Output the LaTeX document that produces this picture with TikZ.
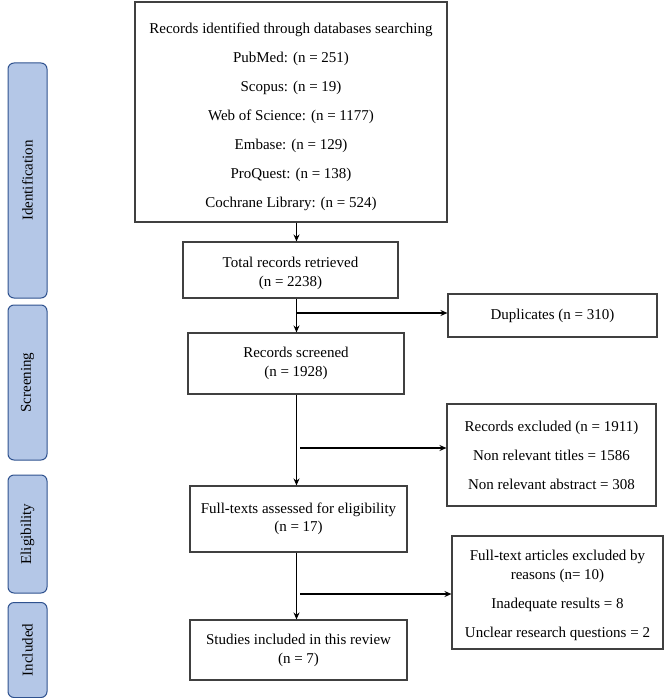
\documentclass[tikz,border=0pt]{standalone}
\usepackage{fontspec}
\setmainfont{Liberation Serif}
\usetikzlibrary{arrows.meta}
\definecolor{barfill}{HTML}{B4C7E7}
\definecolor{barline}{HTML}{2F528F}
\definecolor{boxline}{HTML}{404040}
\tikzset{
  box/.style={draw=boxline, line width=1.1pt, rectangle, align=center, inner sep=0pt,
    font=\fontsize{15}{19}\selectfont},
  phase/.style={draw=barline, line width=1pt, fill=barfill, rounded corners=6pt, rotate=90,
    minimum height=39pt, inner sep=0pt, font=\fontsize{15}{18}\selectfont},
  arr/.style={line width=1.2pt, -{Stealth[length=7pt,width=6pt]}},
}
\begin{document}
\begin{tikzpicture}[x=1pt,y=-1pt]
\useasboundingbox (0,0) rectangle (669,698);
% phase bars
\node[phase, minimum width=235pt] (pid) at (27.5,180.5) {Identification\hspace{30pt}};
\node[phase, minimum width=155pt] (psc) at (27.5,382.5) {Screening};
\node[phase, minimum width=118pt] (pel) at (27.5,534) {Eligibility\hspace{10pt}};
\node[phase, minimum width=95pt] (pin) at (27.5,650) {Included};
% main boxes
\node[box, minimum width=312pt, minimum height=220pt] (top) at (291,112) {\rule{0pt}{20pt}Records identified through databases searching\\[10pt]
PubMed: (n = 251)\\[10pt]
Scopus: (n = 19)\\[10pt]
Web of Science: (n = 1177)\\[10pt]
Embase: (n = 129)\\[10pt]
ProQuest: (n = 138)\\[10pt]
Cochrane Library: (n = 524)};
\node[box, minimum width=215pt, minimum height=56pt] (total) at (290.5,270) {\rule{0pt}{17pt}Total records retrieved\\(n = 2238)};
\node[box, minimum width=209pt, minimum height=43pt] (dup) at (552.5,315.5) {Duplicates (n = 310)};
\node[box, minimum width=216pt, minimum height=61pt] (scr) at (296,363.5) {Records screened\\(n = 1928)};
\node[box, minimum width=209pt, minimum height=102pt] (excl) at (551.5,455) {Records excluded (n = 1911)\\[10pt]
Non relevant titles = 1586\\[10pt]
Non relevant abstract = 308};
\node[box, minimum width=217pt, minimum height=66pt] (full) at (298.5,519) {Full-texts assessed for eligibility\\[-0.5pt](n = 17)};
\node[box, minimum width=211pt, minimum height=113pt] (ftex) at (557.5,592.5) {\rule{0pt}{16.5pt}Full-text articles excluded by\\reasons (n= 10)\\[10pt]
Inadequate results = 8\\[10pt]
Unclear research questions = 2};
\node[box, minimum width=217pt, minimum height=60pt] (inc) at (298.5,650) {Studies included in this review\\(n = 7)};
% connectors
\coordinate (spine) at (296.5,0);
\coordinate (b1) at (296.5,313);
\coordinate (b2) at (300,448);
\coordinate (b3) at (300,594);
\draw[arr] (top.south -| spine) -- (total.north -| spine);
\draw[arr] (total.south -| spine) -- (scr.north -| spine);
\draw[arr] (scr.south -| spine) -- (full.north -| spine);
\draw[arr] (full.south -| spine) -- (inc.north -| spine);
\draw[arr] (b1) -- (dup.west |- b1);
\draw[arr] (b2) -- (excl.west |- b2);
\draw[arr] (b3) -- (ftex.west |- b3);
\end{tikzpicture}
\end{document}
